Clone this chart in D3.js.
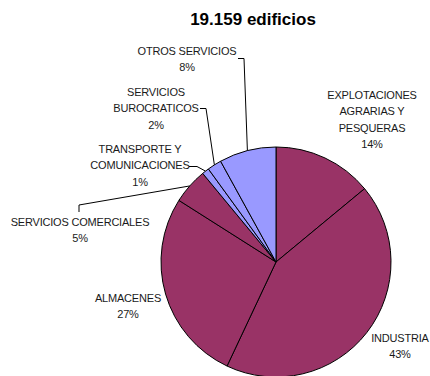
<!DOCTYPE html>
<html>
<head>
<meta charset="utf-8">
<script src="https://cdn.jsdelivr.net/npm/d3@7"></script>
<style>
  html, body { margin: 0; padding: 0; background: #fff; }
  svg { display: block; }
  text { font-family: "Liberation Sans", Arial, sans-serif; }
</style>
</head>
<body>
<div id="chart"></div>
<script>
// Building stock by use (percent of 19.159 buildings)
const title = "19.159 edificios";
const categories = [
  "EXPLOTACIONES AGRARIAS Y PESQUERAS",
  "INDUSTRIA",
  "ALMACENES",
  "SERVICIOS COMERCIALES",
  "TRANSPORTE Y COMUNICACIONES",
  "SERVICIOS BUROCRATICOS",
  "OTROS SERVICIOS"
];
const values = [14, 43, 27, 5, 1, 2, 8];
// label line breaks for each category
const labelLines = [
  ["EXPLOTACIONES", "AGRARIAS Y", "PESQUERAS"],
  ["INDUSTRIA"],
  ["ALMACENES"],
  ["SERVICIOS COMERCIALES"],
  ["TRANSPORTE Y", "COMUNICACIONES"],
  ["SERVICIOS", "BUROCRATICOS"],
  ["OTROS SERVICIOS"]
];
const groups = ["prod", "prod", "prod", "prod", "serv", "serv", "serv"];

const W = 430, H = 376;
const cx = 276, cy = 262, R = 115;
const lineH = 16.4;

// label layout: center x, first baseline, leader polyline start (label side)
const labelLayout = [
  { x: 372, y: 99 },
  { x: 400, y: 342 },
  { x: 128, y: 302 },
  { x: 80,  y: 226, leader: [[79, 212], [79, 205]] },
  { x: 140, y: 153, leader: [[189, 166.5], [197, 166.5]] },
  { x: 156, y: 96,  leader: [[200, 108.5], [206, 108.5]] },
  { x: 187, y: 55,  leader: [[238, 58.5], [244, 58.5]] }
];

const color = d3.scaleOrdinal().domain(["prod", "serv"]).range(["#993366", "#9999ff"]);

const svg = d3.select("#chart").append("svg")
  .attr("width", W).attr("height", H);

svg.append("text")
  .attr("x", 253).attr("y", 25)
  .attr("text-anchor", "middle")
  .attr("font-size", 17).attr("font-weight", "bold")
  .attr("fill", "#000")
  .text(title);

const pie = d3.pie().sort(null).value(d => d.v)
  .startAngle(0).endAngle(2 * Math.PI);
const data = categories.map((c, i) => ({ c, v: values[i], g: groups[i], i }));
const arcs = pie(data);
const arc = d3.arc().innerRadius(0).outerRadius(R);

const g = svg.append("g").attr("transform", `translate(${cx},${cy})`);
g.selectAll("path.slice").data(arcs).enter().append("path")
  .attr("class", "slice")
  .attr("d", arc)
  .attr("fill", d => color(d.data.g))
  .attr("stroke", "#000")
  .attr("stroke-width", 1)
  .attr("stroke-linejoin", "round");

// leaders from label to slice mid-edge
arcs.forEach((a, i) => {
  const L = labelLayout[i];
  if (!L.leader) return;
  const mid = (a.startAngle + a.endAngle) / 2;
  const ex = cx + R * Math.sin(mid), ey = cy - R * Math.cos(mid);
  const pts = L.leader.concat([[ex, ey]]);
  svg.append("path")
    .attr("d", d3.line()(pts))
    .attr("fill", "none")
    .attr("stroke", "#000")
    .attr("stroke-width", 1);
});

// labels
arcs.forEach((a, i) => {
  const L = labelLayout[i];
  const lines = labelLines[i].concat([values[i] + "%"]);
  const t = svg.append("text")
    .attr("text-anchor", "middle")
    .attr("font-size", 11)
    .attr("letter-spacing", -0.2)
    .attr("fill", "#1a1a1a");
  lines.forEach((s, k) => {
    t.append("tspan").attr("x", L.x).attr("y", L.y + k * lineH).text(s);
  });
});
</script>
</body>
</html>
